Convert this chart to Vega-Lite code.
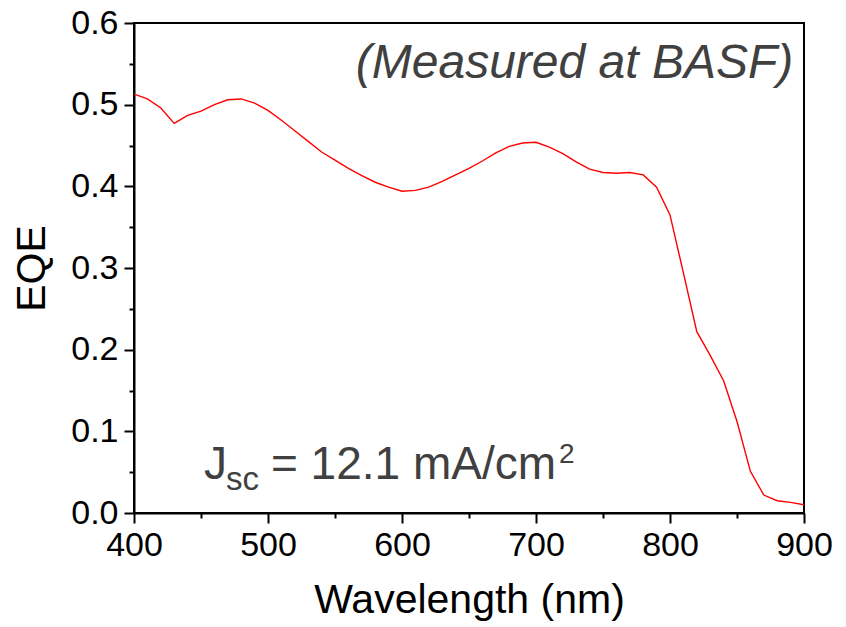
{
  "$schema": "https://vega.github.io/schema/vega-lite/v6.json",
  "width": 670,
  "height": 490,
  "autosize": {"type": "none"},
  "padding": {"left": 134, "top": 23, "right": 42, "bottom": 114},
  "background": "white",
  "config": {
    "view": {"stroke": "black", "strokeWidth": 2},
    "axis": {
      "grid": false,
      "labelFont": "Liberation Sans",
      "labelFontSize": 34,
      "labelColor": "black",
      "titleFont": "Liberation Sans",
      "titleFontSize": 41,
      "titleFontWeight": "normal",
      "titleColor": "black",
      "tickColor": "black",
      "tickWidth": 2,
      "domainColor": "black",
      "domainWidth": 2
    }
  },
  "datasets": {
    "eqe": [
      {"wl": 400, "eqe": 0.513}, {"wl": 410, "eqe": 0.507}, {"wl": 420, "eqe": 0.496},
      {"wl": 430, "eqe": 0.477}, {"wl": 440, "eqe": 0.487}, {"wl": 450, "eqe": 0.492},
      {"wl": 460, "eqe": 0.500}, {"wl": 470, "eqe": 0.506}, {"wl": 480, "eqe": 0.507},
      {"wl": 490, "eqe": 0.502}, {"wl": 500, "eqe": 0.493}, {"wl": 510, "eqe": 0.481},
      {"wl": 520, "eqe": 0.468}, {"wl": 530, "eqe": 0.455}, {"wl": 540, "eqe": 0.442},
      {"wl": 550, "eqe": 0.432}, {"wl": 560, "eqe": 0.422}, {"wl": 570, "eqe": 0.413},
      {"wl": 580, "eqe": 0.405}, {"wl": 590, "eqe": 0.399}, {"wl": 600, "eqe": 0.394},
      {"wl": 610, "eqe": 0.395}, {"wl": 620, "eqe": 0.399}, {"wl": 630, "eqe": 0.406},
      {"wl": 640, "eqe": 0.414}, {"wl": 650, "eqe": 0.422}, {"wl": 660, "eqe": 0.431},
      {"wl": 670, "eqe": 0.441}, {"wl": 680, "eqe": 0.449}, {"wl": 690, "eqe": 0.453},
      {"wl": 700, "eqe": 0.454}, {"wl": 710, "eqe": 0.448}, {"wl": 720, "eqe": 0.440},
      {"wl": 730, "eqe": 0.430}, {"wl": 740, "eqe": 0.421}, {"wl": 750, "eqe": 0.417},
      {"wl": 760, "eqe": 0.416}, {"wl": 770, "eqe": 0.417}, {"wl": 780, "eqe": 0.414},
      {"wl": 790, "eqe": 0.399}, {"wl": 800, "eqe": 0.365}, {"wl": 810, "eqe": 0.294},
      {"wl": 820, "eqe": 0.222}, {"wl": 830, "eqe": 0.193}, {"wl": 840, "eqe": 0.162},
      {"wl": 850, "eqe": 0.112}, {"wl": 860, "eqe": 0.051}, {"wl": 870, "eqe": 0.022},
      {"wl": 880, "eqe": 0.015}, {"wl": 890, "eqe": 0.013}, {"wl": 900, "eqe": 0.010}
    ],
    "notes": [
      {"role": "measured", "wl": 892, "eqe": 0.5326, "txt": "(Measured at BASF)"},
      {"role": "main", "wl": 452.2, "eqe": 0.0416, "txt": "J"},
      {"role": "sub", "wl": 468.7, "eqe": 0.0282, "txt": "sc"},
      {"role": "main", "wl": 502.2, "eqe": 0.0416, "txt": "= 12.1 mA/cm"},
      {"role": "sup", "wl": 717.2, "eqe": 0.0612, "txt": "2"}
    ]
  },
  "resolve": {"axis": {"x": "independent", "y": "independent"}},
  "layer": [
    {
      "data": {"name": "eqe"},
      "mark": {"type": "line", "color": "#ff0000", "strokeWidth": 1.4, "clip": true},
      "encoding": {
        "x": {
          "field": "wl", "type": "quantitative",
          "scale": {"domain": [400, 900], "nice": false, "zero": false},
          "axis": {"orient": "bottom", "values": [400, 500, 600, 700, 800, 900], "tickSize": 10, "labelPadding": 5, "title": "Wavelength (nm)", "titlePadding": 18, "labelFlush": false}
        },
        "y": {
          "field": "eqe", "type": "quantitative",
          "scale": {"domain": [0, 0.6], "nice": false, "zero": false},
          "axis": {"orient": "left", "values": [0, 0.1, 0.2, 0.3, 0.4, 0.5, 0.6], "format": ".1f", "tickSize": 10, "labelPadding": 6, "title": "EQE", "titlePadding": 17, "labelFlush": false}
        }
      }
    },
    {
      "data": {"name": "eqe"},
      "mark": {"type": "line", "strokeOpacity": 0},
      "encoding": {
        "x": {
          "field": "wl", "type": "quantitative",
          "axis": {"orient": "bottom", "values": [450, 550, 650, 750, 850], "tickSize": 5, "labels": false, "domain": false, "title": null}
        },
        "y": {
          "field": "eqe", "type": "quantitative",
          "axis": {"orient": "left", "values": [0.05, 0.15, 0.25, 0.35, 0.45, 0.55], "tickSize": 5, "labels": false, "domain": false, "title": null}
        }
      }
    },
    {
      "data": {"name": "notes"},
      "transform": [{"filter": "datum.role === 'measured'"}],
      "mark": {"type": "text", "font": "Liberation Sans", "fontStyle": "italic", "fontSize": 48, "color": "#404040", "align": "right", "baseline": "alphabetic"},
      "encoding": {
        "x": {"field": "wl", "type": "quantitative", "axis": null},
        "y": {"field": "eqe", "type": "quantitative", "axis": null},
        "text": {"field": "txt"}
      }
    },
    {
      "data": {"name": "notes"},
      "transform": [{"filter": "datum.role === 'main'"}],
      "mark": {"type": "text", "font": "Liberation Sans", "fontSize": 46, "color": "#404040", "align": "left", "baseline": "alphabetic"},
      "encoding": {
        "x": {"field": "wl", "type": "quantitative", "axis": null},
        "y": {"field": "eqe", "type": "quantitative", "axis": null},
        "text": {"field": "txt"}
      }
    },
    {
      "data": {"name": "notes"},
      "transform": [{"filter": "datum.role === 'sub'"}],
      "mark": {"type": "text", "font": "Liberation Sans", "fontSize": 33, "color": "#404040", "align": "left", "baseline": "alphabetic"},
      "encoding": {
        "x": {"field": "wl", "type": "quantitative", "axis": null},
        "y": {"field": "eqe", "type": "quantitative", "axis": null},
        "text": {"field": "txt"}
      }
    },
    {
      "data": {"name": "notes"},
      "transform": [{"filter": "datum.role === 'sup'"}],
      "mark": {"type": "text", "font": "Liberation Sans", "fontSize": 28, "color": "#404040", "align": "left", "baseline": "alphabetic"},
      "encoding": {
        "x": {"field": "wl", "type": "quantitative", "axis": null},
        "y": {"field": "eqe", "type": "quantitative", "axis": null},
        "text": {"field": "txt"}
      }
    }
  ]
}
